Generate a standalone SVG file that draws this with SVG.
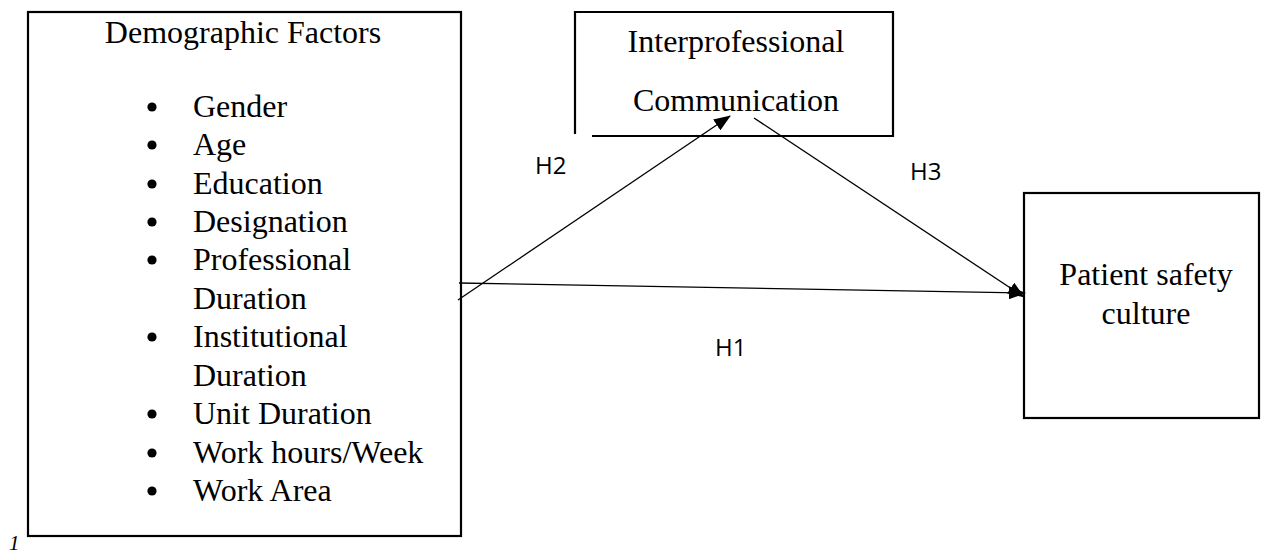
<svg xmlns="http://www.w3.org/2000/svg" width="1261" height="556" viewBox="0 0 1261 556">
<defs>
<style>
.box{fill:none;stroke:#000;stroke-width:2.2}
.t{font-family:"Liberation Serif","Times New Roman",serif;font-size:32px;fill:#000}
.h{font-family:"Open Sans","Liberation Sans",sans-serif;font-size:24px;fill:#000}
.c{stroke:#000;stroke-width:1.3;fill:none;marker-end:url(#ah)}
</style>
<marker id="ah" markerUnits="userSpaceOnUse" markerWidth="17" markerHeight="13" refX="16" refY="6.5" orient="auto">
<path d="M0,0 L17,6.5 L0,13 z" fill="#000"/>
</marker>
</defs>
<rect width="1261" height="556" fill="#fff"/>
<g id="demographic">
<rect class="box" x="28" y="12" width="433" height="524"/>
<text class="t" x="243" y="43" text-anchor="middle">Demographic Factors</text>
<g fill="#000">
<circle cx="152" cy="107" r="4.6"/>
<circle cx="152" cy="145" r="4.6"/>
<circle cx="152" cy="184" r="4.6"/>
<circle cx="152" cy="222" r="4.6"/>
<circle cx="152" cy="260" r="4.6"/>
<circle cx="152" cy="337" r="4.6"/>
<circle cx="152" cy="414" r="4.6"/>
<circle cx="152" cy="453" r="4.6"/>
<circle cx="152" cy="491" r="4.6"/>
</g>
<text class="t" x="193" y="117">Gender</text>
<text class="t" x="193" y="155">Age</text>
<text class="t" x="193" y="194">Education</text>
<text class="t" x="193" y="232">Designation</text>
<text class="t" x="193" y="270">Professional</text>
<text class="t" x="193" y="309">Duration</text>
<text class="t" x="193" y="347">Institutional</text>
<text class="t" x="193" y="386">Duration</text>
<text class="t" x="193" y="424">Unit Duration</text>
<text class="t" x="193" y="463">Work hours/Week</text>
<text class="t" x="193" y="501">Work Area</text>
</g>
<g id="interprofessional">
<path class="box" d="M575,134 V12 H893 V136 H592"/>
<text class="t" x="736" y="52" text-anchor="middle">Interprofessional</text>
<text class="t" x="736" y="111" text-anchor="middle">Communication</text>
</g>
<g id="patient">
<rect class="box" x="1024" y="193" width="235" height="225"/>
<text class="t" x="1146" y="285" text-anchor="middle">Patient safety</text>
<text class="t" x="1146" y="324" text-anchor="middle">culture</text>
</g>
<g id="connectors">
<line class="c" x1="459" y1="283" x2="1025" y2="293"/>
<line class="c" x1="458" y1="300" x2="730" y2="116"/>
<line class="c" x1="754" y1="118" x2="1024" y2="297"/>
</g>
<g id="labels">
<text class="h" x="535" y="174">H2</text>
<text class="h" x="910" y="180">H3</text>
<text class="h" x="715" y="356">H1</text>
</g>
<text x="9" y="550" font-family="Liberation Serif,serif" font-style="italic" font-size="21">1</text>
</svg>
